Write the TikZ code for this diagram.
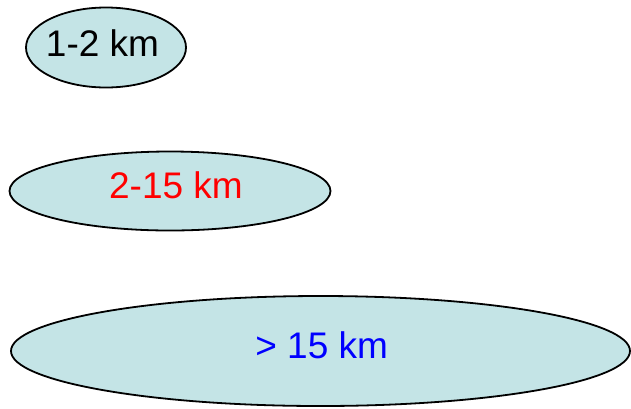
\documentclass[tikz,border=0pt]{standalone}
\usepackage{fontspec}
\setmainfont{Liberation Sans}
\usetikzlibrary{shapes.geometric}
\definecolor{ellfill}{RGB}{196,228,230}
\definecolor{myred}{RGB}{255,0,0}
\definecolor{myblue}{RGB}{0,0,255}
\tikzset{
  oval/.style={ellipse, draw=black, line width=1.8pt, fill=ellfill, inner sep=0pt},
  lbl/.style={anchor=base, inner sep=0pt, font=\fontsize{37}{42}\selectfont}
}
\begin{document}
\begin{tikzpicture}[x=1pt,y=-1pt]
\useasboundingbox (0,0) rectangle (631,408);
\node[oval, minimum width=160pt, minimum height=80pt] (e1) at (106,47.5) {};
\node[oval, minimum width=321pt, minimum height=79pt] (e2) at (170,191) {};
\node[oval, minimum width=619pt, minimum height=110pt] (e3) at (320.5,351) {};
\node[lbl, text=black] (t1) at (102.5,56) {1-2 km};
\node[lbl, text=myred] (t2) at (176,198.5) {2-15 km};
\node[lbl, text=myblue] (t3) at (321.7,358) {> 15 km};
\end{tikzpicture}
\end{document}
